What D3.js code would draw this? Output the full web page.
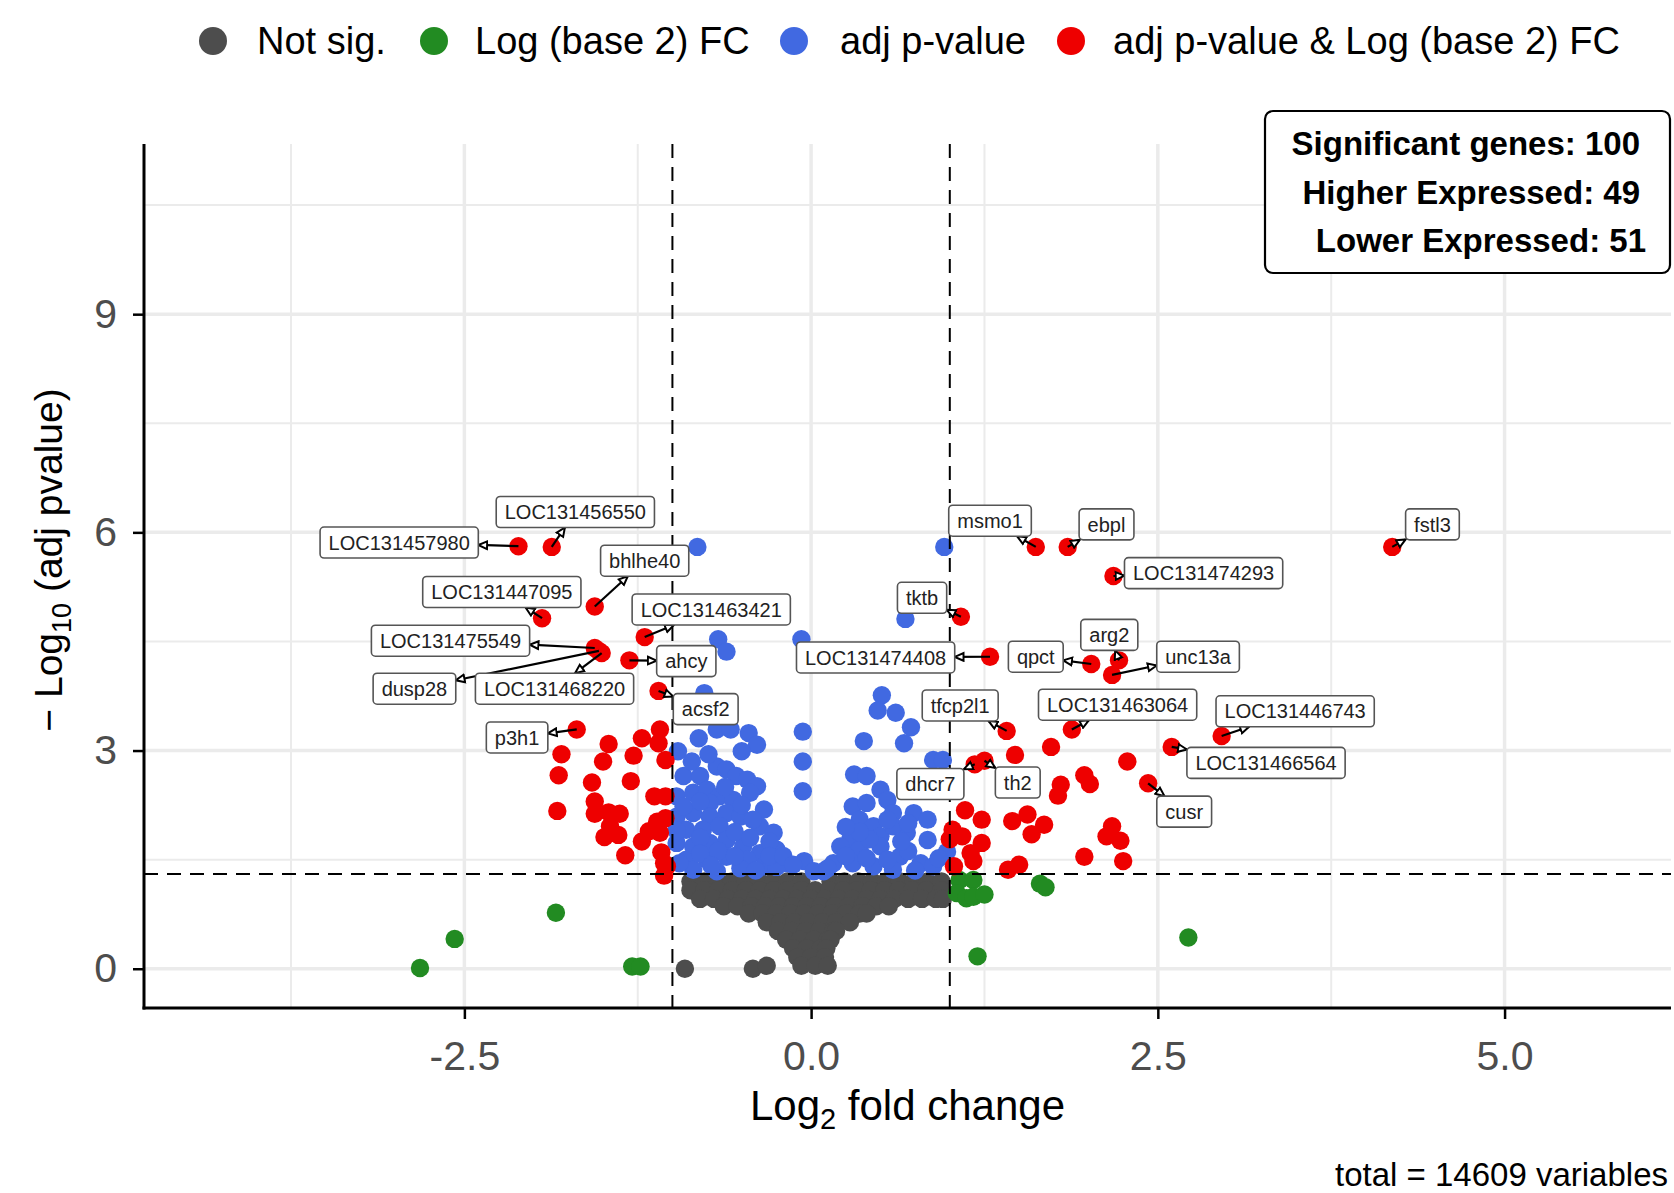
<!DOCTYPE html>
<html>
<head>
<meta charset="utf-8">
<script src="https://cdn.jsdelivr.net/npm/d3@7"></script>
<style>
  body { margin: 0; background: #fff; }
  svg { display: block; font-family: "Liberation Sans", Arial, Helvetica, sans-serif; }
</style>
</head>
<body>
<svg id="chart" width="1674" height="1193"></svg>
<script>
// values: [log2 fold change, -log10 adj pvalue]

// grey cloud, row by row
const notSigRows = [
  { y: 1.20, x: [-0.87, -0.77, -0.67, -0.57, -0.47, -0.37, -0.27, -0.17, -0.07, 0.14, 0.24, 0.34, 0.44, 0.54, 0.64, 0.74, 0.84, 0.94] },
  { y: 1.08, x: [-0.87, -0.77, -0.67, -0.57, -0.47, -0.37, -0.27, -0.17, -0.07, 0.03, 0.13, 0.23, 0.33, 0.43, 0.53, 0.63, 0.73, 0.83, 0.94] },
  { y: 0.96, x: [-0.80, -0.70, -0.60, -0.50, -0.40, -0.30, -0.20, -0.10, 0.00, 0.10, 0.20, 0.30, 0.40, 0.50, 0.60, 0.70, 0.80, 0.90, 0.95] },
  { y: 0.86, x: [-0.63, -0.53, -0.43, -0.33, -0.23, -0.13, -0.03, 0.07, 0.17, 0.27, 0.37, 0.47, 0.56] },
  { y: 0.76, x: [-0.45, -0.35, -0.25, -0.15, -0.05, 0.05, 0.15, 0.25, 0.35, 0.40] },
  { y: 0.64, x: [-0.32, -0.22, -0.12, -0.02, 0.08, 0.18, 0.28] },
  { y: 0.52, x: [-0.24, -0.14, -0.04, 0.06, 0.16, 0.18] },
  { y: 0.40, x: [-0.18, -0.08, 0.02, 0.12, 0.14] },
  { y: 0.28, x: [-0.13, -0.03, 0.07, 0.11] },
  { y: 0.16, x: [-0.10, 0.00, 0.10] },
  { y: 0.04, x: [-0.07, 0.03, 0.12] }
]
const notSigOut = [[-0.91, 0.0], [-0.42, 0.0], [-0.32, 0.04]]

// Log2 FC only (green)
const fcOnly = [
  [-2.82, 0.01], [-2.57, 0.41], [-1.84, 0.77], [-1.29, 0.03], [-1.23, 0.03],
  [1.07, 1.22], [1.17, 1.22], [1.05, 1.04], [1.12, 0.97], [1.17, 0.99], [1.25, 1.02],
  [1.65, 1.17], [1.69, 1.12], [1.20, 0.17], [2.72, 0.43]
]

// adj p-value only (blue)
const pOnly = [
  [-0.82, 5.80], [0.96, 5.80], [0.68, 4.81], [-0.67, 4.53], [-0.61, 4.36], [-0.07, 4.53], [-0.77, 3.79],
  [0.51, 3.76], [0.48, 3.55], [0.61, 3.52], [0.72, 3.32], [0.67, 3.10], [0.38, 3.13],
  [-0.06, 3.26], [-0.06, 2.85], [-0.06, 2.44],
  [0.88, 2.87], [0.95, 2.87], [0.31, 2.67], [0.40, 2.65],
  [-0.96, 2.99], [-0.81, 3.17], [-0.68, 3.29], [-0.58, 3.29], [-0.45, 3.24], [-0.39, 3.08], [-0.50, 2.99],
  [-0.92, 2.65], [-0.80, 2.65], [-0.68, 2.78], [-0.61, 2.74], [-0.54, 2.65], [-0.46, 2.60], [-0.39, 2.51],
  [-0.97, 2.37], [-0.85, 2.42], [-0.75, 2.46], [-0.66, 2.37], [-0.56, 2.32], [-0.44, 2.42], [-0.34, 2.19], [-0.73, 2.28],
  [-0.97, 2.09], [-0.85, 2.14], [-0.73, 2.09], [-0.61, 2.14], [-0.51, 2.09], [-0.37, 1.96], [-0.27, 1.87],
  [-0.90, 1.91], [-0.78, 1.91], [-0.66, 1.96],
  [-0.97, 1.73], [-0.85, 1.68], [-0.73, 1.73], [-0.61, 1.77], [-0.49, 1.68], [-0.37, 1.59], [-0.25, 1.64],
  [-0.90, 1.50], [-0.75, 1.50], [-0.61, 1.54], [-0.46, 1.50],
  [-0.85, 1.36], [-0.68, 1.34], [-0.51, 1.38], [-0.34, 1.41], [-0.18, 1.45], [-0.05, 1.48], [0.09, 1.34],
  [-0.92, 2.23], [-0.80, 2.30], [-0.62, 2.50], [-0.55, 1.88], [-0.44, 1.80], [-0.50, 2.25], [-0.42, 2.05],
  [-0.30, 1.75], [-0.97, 1.90], [-0.80, 1.80], [-0.67, 1.62], [-0.55, 1.55], [-0.80, 1.58], [-0.95, 1.45],
  [-0.72, 1.42], [-0.40, 1.35], [-0.25, 1.40], [-0.30, 1.55], [-0.20, 1.55], [-0.86, 2.85], [-0.74, 2.95],
  [0.50, 2.46], [0.30, 2.23], [0.40, 2.28], [0.55, 2.32], [0.59, 2.14], [0.74, 2.14], [0.84, 2.05],
  [0.35, 2.05], [0.45, 1.96], [0.69, 1.87], [0.84, 1.77], [0.28, 1.77], [0.50, 1.82], [0.59, 1.96],
  [0.21, 1.68], [0.35, 1.64], [0.50, 1.68], [0.64, 1.54], [0.79, 1.45], [0.98, 1.61],
  [0.16, 1.45], [0.30, 1.45], [0.45, 1.41], [0.59, 1.36], [0.88, 1.41], [0.02, 1.34], [-0.13, 1.43],
  [0.25, 1.55], [0.40, 1.52], [0.55, 1.50], [0.70, 1.62], [0.75, 1.35], [0.92, 1.52], [0.65, 1.75],
  [0.42, 1.78], [0.35, 1.88], [0.55, 2.05], [0.70, 2.00], [0.25, 1.95], [0.12, 1.38]
]

// adj p-value & Log2 FC (red), unlabelled
const bothSig = [
  [-1.46, 3.09], [-1.22, 3.17], [-1.09, 3.29], [-1.10, 3.10], [-1.80, 2.95], [-1.50, 2.85], [-1.28, 2.93],
  [-1.05, 2.87], [-1.58, 2.56], [-1.30, 2.58], [-1.82, 2.66], [-1.13, 2.37], [-1.05, 2.37], [-1.56, 2.30],
  [-1.83, 2.17], [-1.56, 2.13], [-1.46, 2.15], [-1.38, 2.13], [-1.45, 1.96], [-1.11, 2.02], [-1.05, 2.07],
  [-1.49, 1.81], [-1.39, 1.84], [-1.22, 1.75], [-1.09, 1.87], [-1.17, 1.89], [-1.34, 1.56], [-1.08, 1.60],
  [-1.06, 1.45], [-1.06, 1.28], [-1.04, 1.41],
  [1.73, 3.05], [1.47, 2.94], [2.28, 2.85], [1.97, 2.66], [2.01, 2.54], [1.80, 2.53], [1.78, 2.38],
  [1.45, 2.03], [1.56, 2.12], [1.68, 1.98], [1.59, 1.85], [2.17, 1.96], [2.13, 1.82], [2.23, 1.76],
  [1.97, 1.54], [2.25, 1.48], [1.42, 1.36], [1.50, 1.43], [1.11, 2.18], [1.23, 2.05], [1.02, 1.91],
  [1.09, 1.82], [1.23, 1.73], [1.15, 1.59], [1.17, 1.48], [1.03, 1.41], [1.00, 1.78]
]

// labelled genes (also red)
const labelGenes = ["LOC131457980", "LOC131456550", "bhlhe40", "LOC131447095", "LOC131463421",
  "LOC131475549", "LOC131468220", "dusp28", "ahcy", "acsf2", "p3h1",
  "msmo1", "ebpl", "fstl3", "LOC131474293", "tktb", "LOC131474408", "qpct", "arg2", "unc13a",
  "tfcp2l1", "LOC131463064", "LOC131446743", "LOC131466564", "cusr", "dhcr7", "th2"]
const labelFC = [-2.11, -1.87, -1.56, -1.94, -1.20, -1.56, -1.51, -1.53, -1.31, -1.10, -1.69,
  1.62, 1.85, 4.19, 2.18, 1.08, 1.29, 2.02, 2.22, 2.17, 1.41, 1.88, 2.96, 2.60, 2.43, 1.18, 1.25]
const labelPadj = [5.81, 5.80, 4.98, 4.82, 4.56, 4.41, 4.34, 4.37, 4.24, 3.82, 3.29,
  5.80, 5.80, 5.80, 5.40, 4.84, 4.29, 4.19, 4.24, 4.04, 3.27, 3.29, 3.20, 3.05, 2.55, 2.81, 2.86]
// where the repelled label boxes sit (centre, in data units)
const labelAt = [[-2.97, 5.86], [-1.70, 6.28], [-1.20, 5.61], [-2.23, 5.18], [-0.72, 4.94],
  [-2.60, 4.51], [-1.85, 3.85], [-2.86, 3.85], [-0.90, 4.23], [-0.76, 3.57], [-2.12, 3.18],
  [1.29, 6.16], [2.13, 6.11], [4.48, 6.11], [2.83, 5.44], [0.80, 5.10], [0.465, 4.28], [1.62, 4.29],
  [2.15, 4.59], [2.79, 4.29], [1.075, 3.62], [2.21, 3.63], [3.49, 3.54], [3.28, 2.83], [2.69, 2.16],
  [0.86, 2.54], [1.49, 2.56]]

const legendNames = ["Not sig.", "Log (base 2) FC", "adj p-value", "adj p-value & Log (base 2) FC"]
const legendColors = ["#4D4D4D", "#228B22", "#4169E1", "#EE0000"]
const boxLines = ["Significant genes: 100", "Higher Expressed: 49", "Lower Expressed: 51"]
const xTicks = [-2.5, 0, 2.5, 5]
const yTicks = [0, 3, 6, 9]
const fcCut = 1
const pCut = 1.30103
const totalVars = 14609

const svg = d3.select("#chart")
const pL = 144, pR = 1671, pT = 144, pB = 1008

const x = d3.scaleLinear().domain([-4.81, 6.2]).range([pL, pR])
const y = d3.scaleLinear().domain([-0.54, 11.34]).range([pB, pT])

// grid
const grid = svg.append("g").attr("stroke", "#EBEBEB")
grid.selectAll(".vmin").data([-3.75, -1.25, 1.25, 3.75]).join("line")
  .attr("x1", d => x(d)).attr("x2", d => x(d)).attr("y1", pT).attr("y2", pB).attr("stroke-width", 2)
grid.selectAll(".hmin").data([1.5, 4.5, 7.5, 10.5]).join("line")
  .attr("y1", d => y(d)).attr("y2", d => y(d)).attr("x1", pL).attr("x2", pR).attr("stroke-width", 2)
grid.selectAll(".vmaj").data(xTicks).join("line")
  .attr("x1", d => x(d)).attr("x2", d => x(d)).attr("y1", pT).attr("y2", pB).attr("stroke-width", 3.5)
grid.selectAll(".hmaj").data(yTicks).join("line")
  .attr("y1", d => y(d)).attr("y2", d => y(d)).attr("x1", pL).attr("x2", pR).attr("stroke-width", 3.5)

// points
const notSig = notSigRows.flatMap(r => r.x.map(v => [v, r.y])).concat(notSigOut)
const labelled = labelGenes.map((g, i) => [labelFC[i], labelPadj[i]])
const groups = [notSig, fcOnly, pOnly, bothSig.concat(labelled)]
groups.forEach((pts, i) => {
  svg.append("g").attr("fill", legendColors[i])
    .selectAll("circle").data(pts).join("circle")
    .attr("cx", d => x(d[0])).attr("cy", d => y(d[1])).attr("r", 9.2)
})

// cut-off lines
const cut = svg.append("g").attr("stroke", "#000").attr("stroke-width", 2).attr("stroke-dasharray", "14,9")
cut.selectAll("line.v").data([-fcCut, fcCut]).join("line")
  .attr("x1", d => x(d)).attr("x2", d => x(d)).attr("y1", pT).attr("y2", pB)
cut.append("line").attr("x1", pL).attr("x2", pR).attr("y1", y(pCut)).attr("y2", y(pCut))

// axes
const xAxis = svg.append("g").attr("transform", `translate(0,${pB})`)
  .call(d3.axisBottom(x).tickValues(xTicks).tickFormat(d => d.toFixed(1)).tickSize(11).tickSizeOuter(0).tickPadding(22))
const yAxis = svg.append("g").attr("transform", `translate(${pL},0)`)
  .call(d3.axisLeft(y).tickValues(yTicks).tickFormat(d3.format("d")).tickSize(11).tickSizeOuter(0).tickPadding(16))
;[xAxis, yAxis].forEach(a => {
  a.select(".domain").remove()
  a.selectAll(".tick line").attr("stroke", "#000").attr("stroke-width", 2.5)
  a.selectAll(".tick text").attr("fill", "#4D4D4D").attr("font-size", 41).attr("font-family", null)
})
svg.append("line").attr("x1", pL).attr("x2", pL).attr("y1", pT).attr("y2", pB + 1.5)
  .attr("stroke", "#000").attr("stroke-width", 3)
svg.append("line").attr("x1", pL - 1.5).attr("x2", pR).attr("y1", pB).attr("y2", pB)
  .attr("stroke", "#000").attr("stroke-width", 3)

// axis titles
const xt = svg.append("text").attr("x", (pL + pR) / 2).attr("y", 1120)
  .attr("text-anchor", "middle").attr("font-size", 42)
xt.append("tspan").text("Log")
xt.append("tspan").attr("font-size", 29).attr("dy", 9).text("2")
xt.append("tspan").attr("dy", -9).text(" fold change")

const yt = svg.append("text").attr("transform", `translate(62,${(pT + pB) / 2 - 16}) rotate(-90)`)
  .attr("text-anchor", "middle").attr("font-size", 39)
yt.append("tspan").text("\u2212 Log")
yt.append("tspan").attr("font-size", 27).attr("dy", 9).text("10")
yt.append("tspan").attr("dy", -9).text(" (adj pvalue)")

// connectors under labels
svg.append("defs").append("marker")
  .attr("id", "arr").attr("viewBox", "0 0 10 10").attr("refX", 9).attr("refY", 5)
  .attr("markerWidth", 5).attr("markerHeight", 5).attr("markerUnits", "strokeWidth").attr("orient", "auto")
  .append("path").attr("d", "M1,1.5 L9,5 L1,8.5 Z").attr("fill", "#fff").attr("stroke", "#000").attr("stroke-width", 1.8)

const boxH = 31, padX = 8.5
const labG = svg.append("g")
const segG = labG.append("g")
const boxG = labG.append("g")
labelGenes.forEach((g, i) => {
  const cx = x(labelAt[i][0]), cy = y(labelAt[i][1])
  const grp = boxG.append("g")
  const t = grp.append("text").attr("x", cx).attr("y", cy).attr("dy", "0.36em")
    .attr("text-anchor", "middle").attr("font-size", 20).attr("fill", "#222").text(g)
  const w = t.node().getComputedTextLength() + 2 * padX
  grp.insert("rect", "text").attr("x", cx - w / 2).attr("y", cy - boxH / 2).attr("width", w).attr("height", boxH)
    .attr("rx", 4).attr("fill", "#fff").attr("stroke", "#555").attr("stroke-width", 1.6)
  // segment from the point to where it meets the box edge
  const px = x(labelFC[i]), py = y(labelPadj[i])
  const dx = cx - px, dy = cy - py
  const s = Math.min(dx ? (w / 2) / Math.abs(dx) : Infinity, dy ? (boxH / 2) / Math.abs(dy) : Infinity)
  if (s < 1) {
    segG.append("line").attr("x1", px).attr("y1", py)
      .attr("x2", cx - s * dx).attr("y2", cy - s * dy)
      .attr("stroke", "#000").attr("stroke-width", 2.2).attr("marker-end", "url(#arr)")
  }
})

// legend
const leg = svg.append("g")
const legDotX = [213, 434, 794, 1071], legTextX = [257, 475, 840, 1113]
legendNames.forEach((n, i) => {
  leg.append("circle").attr("cx", legDotX[i]).attr("cy", 41).attr("r", 14).attr("fill", legendColors[i])
  leg.append("text").attr("x", legTextX[i]).attr("y", 54).attr("font-size", 38).text(n)
})

// summary box
svg.append("rect").attr("x", 1265).attr("y", 111).attr("width", 405).attr("height", 162)
  .attr("rx", 8).attr("fill", "#fff").attr("stroke", "#000").attr("stroke-width", 2.2)
svg.append("g").selectAll("text").data(boxLines).join("text")
  .attr("x", (d, i) => i === 2 ? 1646 : 1640).attr("y", (d, i) => 155 + i * 48.5)
  .attr("text-anchor", "end").attr("font-size", 33).attr("font-weight", "bold").text(d => d)

// caption
svg.append("text").attr("x", 1668).attr("y", 1186).attr("text-anchor", "end")
  .attr("font-size", 33).text(`total = ${totalVars} variables`)
</script>
</body>
</html>
